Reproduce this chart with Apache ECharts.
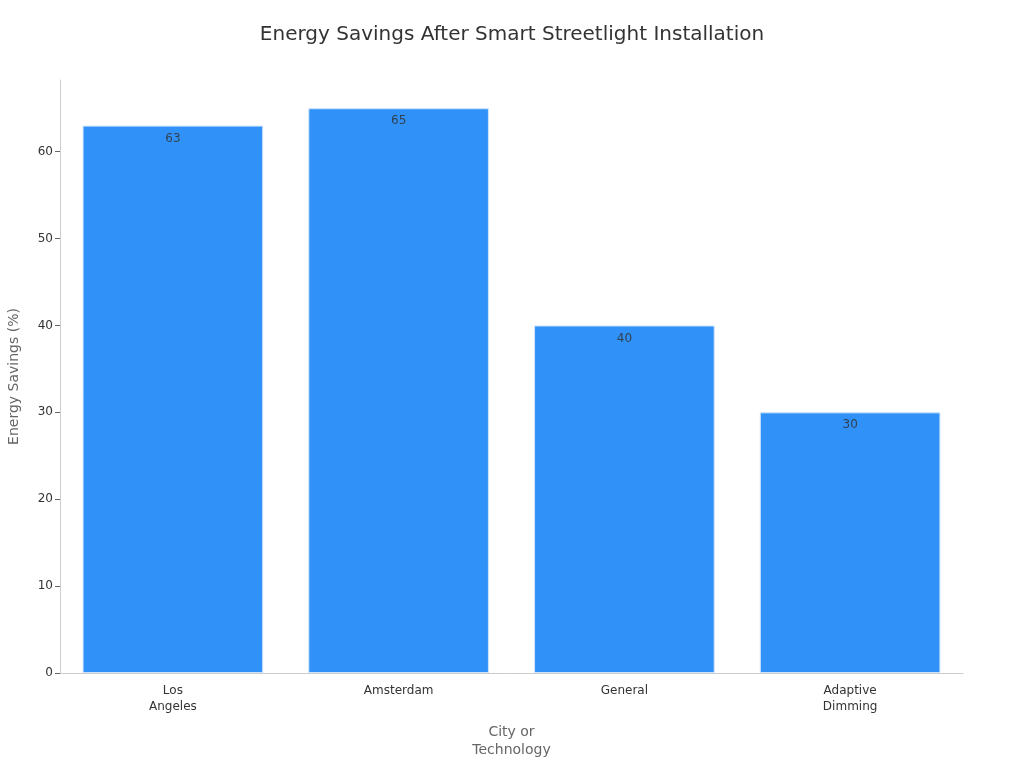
<!DOCTYPE html>
<html>
<head>
<meta charset="utf-8" />
<title>Energy Savings After Smart Streetlight Installation</title>
<script src="https://cdn.jsdelivr.net/npm/echarts@6/dist/echarts.min.js"></script>
<style>
  html, body { margin: 0; padding: 0; background: #fff; }
  #chart { width: 1024px; height: 768px; }
</style>
</head>
<body>
<div id="chart"></div>
<script>
const categories = ["Los\nAngeles", "Amsterdam", "General", "Adaptive\nDimming"];
const savings = [63, 65, 40, 30];
const yTicks = [0, 10, 20, 30, 40, 50, 60];

const font = "DejaVu Sans";
const chart = echarts.init(document.getElementById("chart"));

chart.setOption({
  animation: false,
  backgroundColor: "#fff",
  textStyle: { fontFamily: font },
  title: {
    text: "Energy Savings After Smart Streetlight Installation",
    left: "center",
    top: 20,
    textStyle: { fontSize: 20, fontWeight: "normal", color: "#333", fontFamily: font },
  },
  grid: { left: 60, right: 61, top: 80, bottom: 95, containLabel: false, outerBoundsMode: "none" },
  xAxis: {
    type: "category",
    data: categories,
    name: "City or\nTechnology",
    nameLocation: "middle",
    nameGap: 50,
    nameTextStyle: { fontSize: 14, color: "#666", lineHeight: 18, fontFamily: font },
    axisLine: { lineStyle: { color: "#ccc" } },
    axisTick: { alignWithLabel: true, length: 5, lineStyle: { color: "#666" } },
    axisLabel: { fontSize: 12, color: "#333", lineHeight: 16, margin: 10, fontFamily: font },
  },
  yAxis: {
    type: "value",
    min: yTicks[0],
    max: 68.25,
    interval: 10,
    name: "Energy Savings (%)",
    nameLocation: "middle",
    nameGap: 39,
    nameTextStyle: { fontSize: 14, color: "#666", fontFamily: font },
    axisLine: { show: true, lineStyle: { color: "#ccc" } },
    axisTick: { show: true, length: 5, lineStyle: { color: "#666" } },
    axisLabel: { fontSize: 12, color: "#333", showMaxLabel: false, margin: 7, fontFamily: font },
    splitLine: { show: false },
  },
  series: [
    {
      type: "bar",
      data: savings,
      barCategoryGap: "20%",
      itemStyle: { color: "#3091f8", borderColor: "#cde3fb", borderWidth: 1 },
      label: {
        show: true,
        position: "insideTop",
        distance: 7,
        fontSize: 12,
        color: "rgba(50,50,50,0.85)",
        fontFamily: font,
      },
    },
  ],
});
</script>
</body>
</html>
